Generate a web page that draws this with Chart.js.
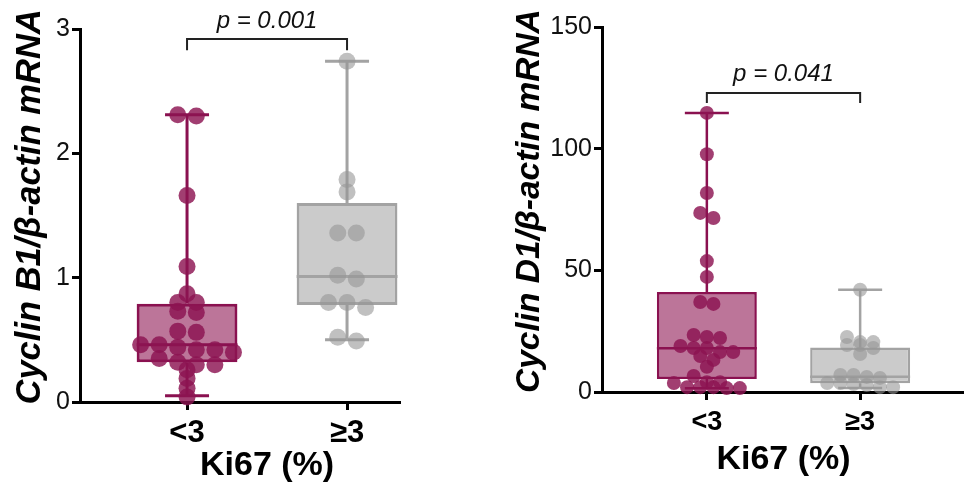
<!DOCTYPE html>
<html>
<head>
<meta charset="utf-8">
<script src="https://cdn.jsdelivr.net/npm/chart.js@4.4.1/dist/chart.umd.min.js"></script>
<style>
  html, body { margin: 0; padding: 0; background: #fff; }
  #wrap { position: relative; width: 970px; height: 496px; }
  .panel { position: absolute; top: 0; width: 485px; height: 496px; }
</style>
</head>
<body>
<div id="wrap">
  <div class="panel" style="left:0"><canvas id="chartB1"></canvas></div>
  <div class="panel" style="left:485px"><canvas id="chartD1"></canvas></div>
</div>
<script>
const categories = ["<3", "\u22653"];
const xTitle = "Ki67 (%)";

// Cyclin B1 / beta-actin mRNA, individual samples
const b1Low = [2.31, 2.30, 1.66, 1.09, 0.87, 0.80, 0.80, 0.73, 0.72, 0.57, 0.56,
  0.46, 0.46, 0.44, 0.42, 0.42, 0.40, 0.35, 0.32, 0.30, 0.30, 0.26, 0.19, 0.11, 0.04];
const b1High = [2.74, 1.79, 1.69, 1.36, 1.36, 1.02, 0.99, 0.80, 0.80, 0.76, 0.52, 0.49];
// box stats per category: min, q1, median, q3, max
const b1Min = [0.05, 0.50];
const b1Q1 = [0.32, 0.78];
const b1Median = [0.46, 1.01];
const b1Q3 = [0.79, 1.60];
const b1Max = [2.31, 2.74];
const b1Ticks = [0, 1, 2, 3];

// Cyclin D1 / beta-actin mRNA
const d1Low = [114.7, 97.7, 81.8, 73.6, 71.5, 53.8, 47.3, 37.0, 36.2, 23.4, 22.6, 22.2,
  18.9, 18.1, 18.1, 16.4, 16.4, 14.8, 13.2, 10.4, 6.6, 4.0, 4.0, 3.7, 2.0, 2.0, 2.0, 1.6, 1.6];
const d1High = [42.0, 22.6, 20.5, 20.5, 19.3, 19.3, 18.1, 15.6, 7.0, 7.0, 6.2, 5.8,
  3.7, 3.7, 3.3, 2.9, 2.0, 2.0];
const d1Min = [1.5, 1.6];
const d1Q1 = [5.3, 3.6];
const d1Median = [18.0, 6.3];
const d1Q3 = [41.1, 18.3];
const d1Max = [114.7, 42.0];
const d1Ticks = [0, 50, 100, 150];

const pValues = ["p = 0.001", "p = 0.041"];

const FONT = "'Liberation Sans', Arial, Helvetica, sans-serif";
const MAROON = "#8a1150";
const MAROON_FILL = "rgba(139,17,80,0.58)";
const MAROON_PT = "rgba(140,20,82,0.82)";
const GRAY = "#a3a3a3";
const GRAY_FILL = "#cbcbcb";
const GRAY_PT = "rgba(150,150,150,0.6)";

// group values into rows and spread each row symmetrically (GraphPad-like swarm)
function swarm(vals, cx, tol, step) {
  const sorted = vals.slice().sort((a, b) => b - a);
  const rows = [];
  sorted.forEach(v => {
    const row = rows[rows.length - 1];
    if (row && row[0] - v <= tol + 1e-9) row.push(v);
    else rows.push([v]);
  });
  const pts = [];
  rows.forEach(row => {
    const n = row.length;
    row.forEach((v, i) => pts.push({ x: cx + (i - (n - 1) / 2) * step, y: v }));
  });
  return pts;
}

const boxExtras = {
  id: "boxExtras",
  afterDatasetDraw(chart, args, opts) {
    if (args.index !== 0) return;
    const { ctx, scales: { x, y } } = chart;
    const bars = chart.getDatasetMeta(0).data;
    ctx.save();
    ctx.lineWidth = opts.lineWidth;
    opts.min.forEach((mn, i) => {
      const cx = x.getPixelForValue(i + 1);
      const bar = bars[i];
      ctx.strokeStyle = opts.colors[i];
      ctx.beginPath();
      ctx.moveTo(cx, y.getPixelForValue(opts.q3[i]));
      ctx.lineTo(cx, y.getPixelForValue(opts.max[i]));
      ctx.moveTo(cx, y.getPixelForValue(opts.q1[i]));
      ctx.lineTo(cx, y.getPixelForValue(mn));
      // caps
      ctx.moveTo(cx - opts.cap, y.getPixelForValue(opts.max[i]));
      ctx.lineTo(cx + opts.cap, y.getPixelForValue(opts.max[i]));
      ctx.moveTo(cx - opts.cap, y.getPixelForValue(mn));
      ctx.lineTo(cx + opts.cap, y.getPixelForValue(mn));
      // median
      ctx.moveTo(bar.x - bar.width / 2, y.getPixelForValue(opts.median[i]));
      ctx.lineTo(bar.x + bar.width / 2, y.getPixelForValue(opts.median[i]));
      ctx.stroke();
    });
    ctx.restore();
  }
};

// significance bracket + x axis title centred between the two groups
const annotations = {
  id: "annotations",
  afterDraw(chart, args, opts) {
    const { ctx, scales: { x, y } } = chart;
    const x1 = x.getPixelForValue(1), x2 = x.getPixelForValue(2);
    const yb = y.getPixelForValue(opts.level);
    const yd = y.getPixelForValue(opts.drop);
    ctx.save();
    ctx.strokeStyle = "#222";
    ctx.lineWidth = 2;
    ctx.beginPath();
    ctx.moveTo(x1, yd); ctx.lineTo(x1, yb); ctx.lineTo(x2, yb); ctx.lineTo(x2, yd);
    ctx.stroke();
    ctx.fillStyle = "#111";
    ctx.font = "italic " + opts.size + "px " + FONT;
    ctx.textAlign = "center";
    ctx.textBaseline = "middle";
    ctx.fillText(opts.text, (x1 + x2) / 2, y.getPixelForValue(opts.textAt));
    ctx.fillStyle = "#000";
    ctx.font = "bold " + opts.titleSize + "px " + FONT;
    ctx.fillText(xTitle, (x1 + x2) / 2, opts.titleY);
    ctx.restore();
  }
};

function makePanel(id, p) {
  const lowPts = swarm(p.low, 1, p.tol, p.step);
  const highPts = swarm(p.high, 2, p.tol, p.step);
  return new Chart(document.getElementById(id), {
    type: "bar",
    data: {
      datasets: [
        {
          data: [{ x: 1, y: [p.q1[0], p.q3[0]] }, { x: 2, y: [p.q1[1], p.q3[1]] }],
          backgroundColor: [MAROON_FILL, GRAY_FILL],
          borderColor: [MAROON, GRAY],
          borderWidth: p.lineW,
          borderSkipped: false,
          barPercentage: p.barPct,
          categoryPercentage: 1,
          order: 2
        },
        {
          type: "scatter",
          data: lowPts,
          backgroundColor: MAROON_PT,
          borderWidth: 0,
          pointRadius: p.r,
          clip: false,
          order: 1
        },
        {
          type: "scatter",
          data: highPts,
          backgroundColor: GRAY_PT,
          borderWidth: 0,
          pointRadius: p.r,
          clip: false,
          order: 1
        }
      ]
    },
    options: {
      responsive: true,
      maintainAspectRatio: false,
      animation: false,
      layout: { padding: { top: p.padTop, right: p.padRight, left: 0, bottom: 0 } },
      plugins: {
        legend: { display: false },
        tooltip: { enabled: false },
        boxExtras: {
          min: p.min, q1: p.q1, median: p.median, q3: p.q3, max: p.max,
          colors: [MAROON, GRAY], lineWidth: p.lineW, cap: 22
        },
        annotations: {
          level: p.bracket[0], drop: p.bracket[1], textAt: p.bracket[2], text: p.pText, size: 24,
          titleSize: 34, titleY: p.xTitleY
        }
      },
      scales: {
        x: {
          type: "linear",
          offset: false,
          min: p.xMin,
          max: p.xMax,
          afterBuildTicks: s => { s.ticks = categories.map((c, i) => ({ value: i + 1 })); },
          afterFit: s => { s.height = p.xHeight; },
          ticks: {
            autoSkip: false,
            padding: p.xTickPad,
            color: "#000",
            font: { family: FONT, size: p.xTickSize, weight: "bold" },
            callback: v => categories[v - 1]
          },
          grid: { offset: false, drawOnChartArea: false, drawTicks: true, tickLength: 8, tickWidth: 3, color: "#000" },
          border: { display: true, color: "#000", width: 3 }
        },
        y: {
          min: 0,
          max: p.ticks[p.ticks.length - 1],
          afterBuildTicks: s => { s.ticks = p.ticks.map(v => ({ value: v })); },
          afterFit: s => { s.width = p.yWidth; },
          ticks: {
            padding: 2,
            color: "#111",
            font: { family: FONT, size: 25 }
          },
          grid: { drawOnChartArea: false, drawTicks: true, tickLength: 8, tickWidth: 3, color: "#000" },
          border: { display: true, color: "#000", width: 3 },
          title: {
            display: true,
            text: "\u2002" + p.yTitle,
            color: "#000",
            font: { family: FONT, size: p.yTitleSize, weight: "bold", style: "italic" },
            padding: { top: p.yTitlePad, bottom: 0 }
          }
        }
      }
    },
    plugins: [boxExtras, annotations]
  });
}

makePanel("chartB1", {
  low: b1Low, high: b1High, min: b1Min, q1: b1Q1, median: b1Median, q3: b1Q3, max: b1Max,
  ticks: b1Ticks, yTitle: "Cyclin B1/\u03b2-actin mRNA", pText: pValues[0],
  bracket: [2.92, 2.83, 3.06],
  tol: 0.065, step: 0.116, r: 8.5, lineW: 3, barPct: 0.63,
  xMin: 0.331, xMax: 2.331, yWidth: 80, xHeight: 94, padTop: 29, padRight: 85,
  xTickPad: 5, xTickSize: 31, xTitleY: 466, yTitleSize: 34.5, yTitlePad: 10
});

makePanel("chartD1", {
  low: d1Low, high: d1High, min: d1Min, q1: d1Q1, median: d1Median, q3: d1Q3, max: d1Max,
  ticks: d1Ticks, yTitle: "Cyclin D1/\u03b2-actin mRNA", pText: pValues[1],
  bracket: [122.9, 118.8, 130.5],
  tol: 2.6, step: 0.086, r: 7, lineW: 2.5, barPct: 0.652,
  xMin: 0.316, xMax: 2.671, yWidth: 117, xHeight: 104, padTop: 27, padRight: 3,
  xTickPad: 6, xTickSize: 27, xTitleY: 460, yTitleSize: 33.5, yTitlePad: 25
});
</script>
</body>
</html>
